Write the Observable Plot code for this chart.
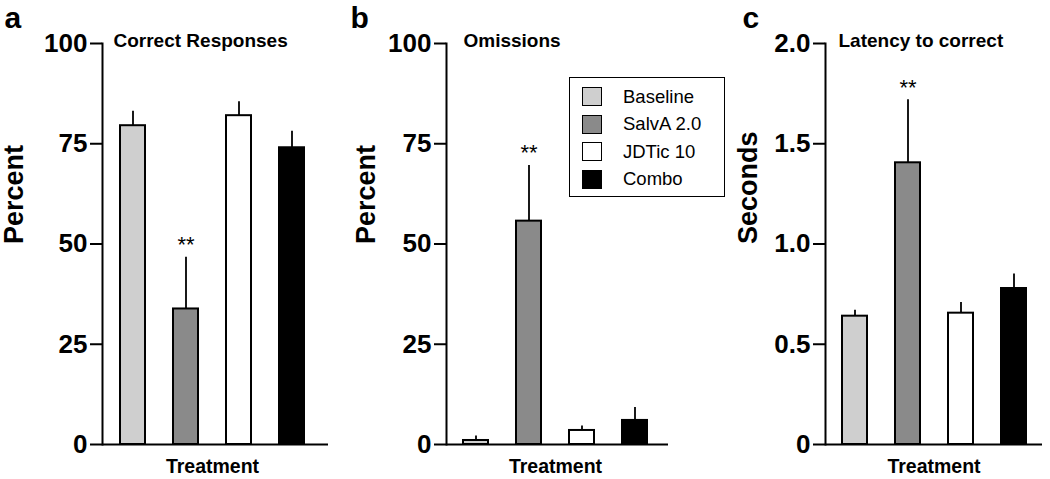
<!DOCTYPE html>
<html>
<head>
<meta charset="utf-8">
<script src="https://cdn.jsdelivr.net/npm/d3@7"></script>
<script src="https://cdn.jsdelivr.net/npm/@observablehq/plot@0.6"></script>
<style>
  body { margin: 0; background: #fff; }
  #chart { position: relative; width: 1050px; height: 479px; font-family: "Liberation Sans", Arial, sans-serif; }
  #chart > svg { position: absolute; top: 0; }
  .legend { position: absolute; left: 569px; top: 77px; width: 156px; height: 120px; border: 1.5px solid #000;
            box-sizing: border-box; padding: 5px 0 0 12px; background: #fff; font-size: 18.5px; color: #000; }
  .legend .row { display: flex; align-items: center; height: 27.5px; }
  .legend .sw { width: 20px; height: 19px; border: 1.8px solid #000; box-sizing: border-box; margin-right: 21px; }
</style>
</head>
<body>
<div id="chart"></div>
<script>
// ---- data ----
const treatments = ["Baseline", "SalvA 2.0", "JDTic 10", "Combo"];
const colors = ["#cfcfcf", "#8a8a8a", "#ffffff", "#000000"];
const significant = [false, true, false, false];

const correctMean = [79.5, 33.8, 82.0, 74.0];
const correctSem  = [3.6, 12.9, 3.5, 4.1];

const omissionMean = [1.0, 55.7, 3.5, 6.0];
const omissionSem  = [1.1, 13.9, 1.1, 3.2];

const latencyMean = [0.64, 1.405, 0.655, 0.778];
const latencySem  = [0.03, 0.315, 0.053, 0.072];

const percentTicks = [0, 25, 50, 75, 100];
const secondsTicks = [0, 0.5, 1.0, 1.5, 2.0];

const FONT = '"Liberation Sans", Arial, sans-serif';

function panel(o) {
  const data = treatments.map((t, i) => ({t, v: o.mean[i], hi: o.mean[i] + o.sem[i], sig: significant[i]}));
  const svg = Plot.plot({
    width: 350,
    height: 479,
    marginTop: 43,
    marginBottom: 35,
    marginLeft: o.marginLeft,
    marginRight: o.marginRight,
    style: {fontFamily: FONT, fontWeight: "bold", color: "#000", background: "transparent", overflow: "visible"},
    x: {domain: treatments, range: o.xRange, paddingInner: 0.53, paddingOuter: 0.3, axis: null},
    y: {domain: o.yDomain, axis: null},
    color: {domain: treatments, range: colors},
    marks: [
      Plot.ruleX(data, {x: "t", y1: "v", y2: "hi", stroke: "#000", strokeWidth: 1.8}),
      Plot.barY(data, {x: "t", y: "v", fill: "t", stroke: "#000", strokeWidth: 2}),
      Plot.ruleY([0], {stroke: "#000", strokeWidth: 2}),
      Plot.frame({anchor: "left", stroke: "#000", strokeWidth: 2}),
      Plot.axisY({ticks: o.ticks, tickFormat: o.tickFormat, tickSize: 12, tickPadding: 3,
                  fontSize: 26, fontWeight: "bold", strokeWidth: 2, label: null}),
      Plot.text(data.filter(d => d.sig), {x: "t", y: "hi", text: () => "**", dy: -5, lineAnchor: "bottom",
                  fontSize: 22, fontWeight: "normal"}),
      Plot.text([o.title], {frameAnchor: "top-left", dx: o.titleDx, dy: 3, lineAnchor: "bottom",
                  textAnchor: "start", fontSize: 19}),
      Plot.text([o.ylabel], {frameAnchor: "left", rotate: -90, dx: o.ylabelDx, fontSize: 27}),
      Plot.text([o.letter], {frameAnchor: "top-left", dx: o.letterDx, dy: -16, lineAnchor: "bottom",
                  textAnchor: "start", fontSize: 30}),
      Plot.text(["Treatment"], {frameAnchor: "bottom", dx: o.treatDx, dy: 28, lineAnchor: "bottom", fontSize: 19.5})
    ]
  });
  svg.style.left = o.left + "px";
  return svg;
}

const chart = document.getElementById("chart");
const fmtPct = d => String(d);
const fmtSec = d => d === 0 ? "0" : d.toFixed(1);

chart.appendChild(panel({letter: "a", title: "Correct Responses", ylabel: "Percent", mean: correctMean, sem: correctSem,
  yDomain: [0, 100], ticks: percentTicks, tickFormat: fmtPct, left: 0, marginLeft: 102, marginRight: 22,
  xRange: [103.25, 320.3], titleDx: 11, ylabelDx: -88, letterDx: -98, treatDx: -3}));
chart.appendChild(panel({letter: "b", title: "Omissions", ylabel: "Percent", mean: omissionMean, sem: omissionSem,
  yDomain: [0, 100], ticks: percentTicks, tickFormat: fmtPct, left: 350, marginLeft: 96, marginRight: 32,
  xRange: [96.75, 313.9], titleDx: 17, ylabelDx: -80, letterDx: -96, treatDx: -2}));
chart.appendChild(panel({letter: "c", title: "Latency to correct", ylabel: "Seconds", mean: latencyMean, sem: latencySem,
  yDomain: [0, 2], ticks: secondsTicks, tickFormat: fmtSec, left: 700, marginLeft: 125, marginRight: 8,
  xRange: [125.75, 342.8], titleDx: 13, ylabelDx: -77, letterDx: -83, treatDx: 0}));

// legend
const legend = d3.select(chart).append("div").attr("class", "legend");
const rows = legend.selectAll(".row").data(treatments).join("div").attr("class", "row");
rows.append("div").attr("class", "sw").style("background", (d, i) => colors[i]);
rows.append("span").text(d => d);
</script>
</body>
</html>
